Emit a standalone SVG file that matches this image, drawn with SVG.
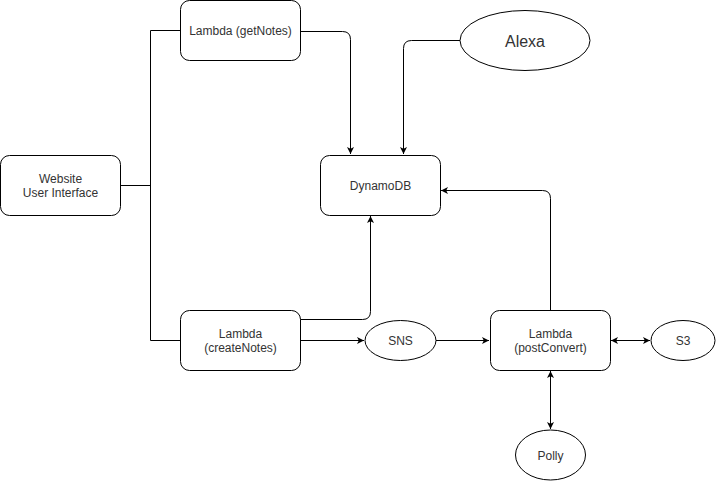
<svg xmlns="http://www.w3.org/2000/svg" width="716" height="481" viewBox="0 0 716 481">
<defs>
<marker id="arr" markerWidth="8" markerHeight="8" refX="7" refY="4" orient="auto-start-reverse" markerUnits="userSpaceOnUse">
<path d="M0,0.5 L7,4 L0,7.5 L1.8,4 Z" fill="#000"/>
</marker>
<style>
.box{fill:#fff;stroke:#000;stroke-width:1}
.t{font-family:"Liberation Sans",Arial,sans-serif;font-size:12px;fill:#333;text-anchor:middle}
.e{fill:none;stroke:#000;stroke-width:1}
</style>
</defs>
<rect width="716" height="481" fill="#fff"/>
<g id="connectors">
<path class="e" d="M120.5,185.5 H150.5 M150.5,30.5 V340.5 M150.5,30.5 H180 M150.5,340.5 H180"/>
<path class="e" d="M300,31.5 H342.5 Q350.5,31.5 350.5,39.5 V154" marker-end="url(#arr)"/>
<path class="e" d="M460,40.5 H411.5 Q403.5,40.5 403.5,48.5 V154" marker-end="url(#arr)"/>
<path class="e" d="M300,319.5 H362.5 Q370.5,319.5 370.5,311.5 V216" marker-end="url(#arr)"/>
<path class="e" d="M300,340.5 H364" marker-end="url(#arr)"/>
<path class="e" d="M436,340.5 H489" marker-end="url(#arr)"/>
<path class="e" d="M550.5,310 V198.5 Q550.5,190.5 542.5,190.5 H441" marker-end="url(#arr)"/>
<path class="e" d="M611,340.5 H650" marker-start="url(#arr)" marker-end="url(#arr)"/>
<path class="e" d="M550.5,371 V429" marker-start="url(#arr)" marker-end="url(#arr)"/>
</g>
<g id="website">
<rect class="box" x="0.5" y="155.5" width="120" height="60" rx="9"/>
<text class="t" x="60.5" y="183">Website</text>
<text class="t" x="60.5" y="197">User Interface</text>
</g>
<g id="getNotes">
<rect class="box" x="180.5" y="0.5" width="120" height="60" rx="9"/>
<text class="t" x="240.5" y="35">Lambda (getNotes)</text>
</g>
<g id="createNotes">
<rect class="box" x="180.5" y="310.5" width="120" height="60" rx="9"/>
<text class="t" x="240.5" y="338">Lambda</text>
<text class="t" x="240.5" y="352">(createNotes)</text>
</g>
<g id="dynamodb">
<rect class="box" x="320.5" y="155.5" width="120" height="60" rx="9"/>
<text class="t" x="380.5" y="190">DynamoDB</text>
</g>
<g id="alexa">
<ellipse class="box" cx="525" cy="40.5" rx="65" ry="30"/>
<text class="t" x="525" y="47" style="font-size:16px">Alexa</text>
</g>
<g id="sns">
<ellipse class="box" cx="400.5" cy="340.5" rx="35.5" ry="20"/>
<text class="t" x="400.5" y="345">SNS</text>
</g>
<g id="postConvert">
<rect class="box" x="490.5" y="310.5" width="120" height="60" rx="9"/>
<text class="t" x="550.5" y="338">Lambda</text>
<text class="t" x="550.5" y="352">(postConvert)</text>
</g>
<g id="s3">
<ellipse class="box" cx="683" cy="340.5" rx="32" ry="20"/>
<text class="t" x="683" y="345">S3</text>
</g>
<g id="polly">
<ellipse class="box" cx="550.5" cy="455" rx="35" ry="25"/>
<text class="t" x="550.5" y="460">Polly</text>
</g>
</svg>
